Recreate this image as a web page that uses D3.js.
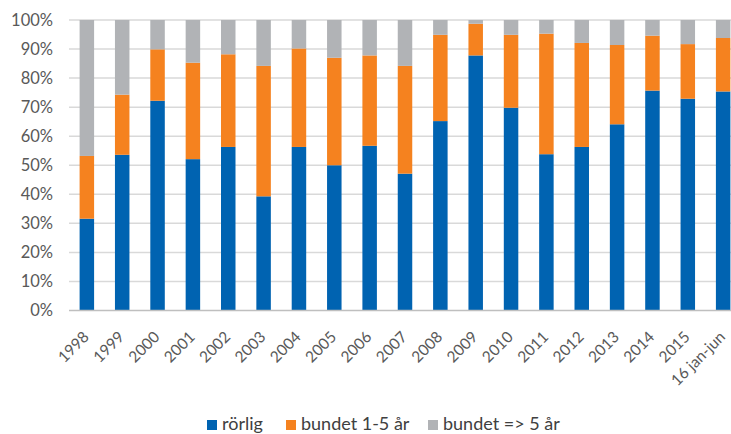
<!DOCTYPE html>
<html>
<head>
<meta charset="utf-8">
<script src="https://cdn.jsdelivr.net/npm/d3@7"></script>
<style>
  html, body { margin: 0; padding: 0; background: #fff; }
</style>
</head>
<body>
<svg id="chart"></svg>
<script>
// data (percent of the year's loans)
const categories = ["1998", "1999", "2000", "2001", "2002", "2003", "2004", "2005", "2006",
  "2007", "2008", "2009", "2010", "2011", "2012", "2013", "2014", "2015", "16 jan-jun"];
const rorlig = [31.6, 53.6, 72.2, 52.1, 56.3, 39.3, 56.3, 50.0, 56.7,
  47.1, 65.2, 87.8, 69.8, 53.8, 56.3, 64.1, 75.7, 72.9, 75.4];
const bundet15 = [21.6, 20.7, 17.7, 33.2, 31.9, 44.9, 33.9, 37.0, 31.1,
  37.1, 29.7, 10.9, 25.1, 41.5, 35.8, 27.3, 18.9, 18.8, 18.4];
const bundet5 = [46.8, 25.7, 10.1, 14.7, 11.8, 15.8, 9.8, 13.0, 12.2,
  15.8, 5.1, 1.3, 5.1, 4.7, 7.9, 8.6, 5.4, 8.3, 6.2];
const seriesNames = ["rörlig", "bundet 1-5 år", "bundet => 5 år"];
const yTicks = [0, 10, 20, 30, 40, 50, 60, 70, 80, 90, 100];

const config = { width: 731, height: 434 };
const colors = ["#0063b1", "#f5821f", "#b1b3b6"];
const font = "Lato, 'Liberation Sans', sans-serif";

const rows = categories.map((c, i) => ({
  cat: c,
  [seriesNames[0]]: rorlig[i],
  [seriesNames[1]]: bundet15[i],
  [seriesNames[2]]: bundet5[i],
}));

const svg = d3
  .select("#chart")
  .attr("width", config.width)
  .attr("height", config.height)
  .style("font-family", font);

// the plot runs past the right edge of the picture (cropped there)
const x = d3.scaleBand().domain(categories).range([69, 741]).paddingInner(0.59).paddingOuter(0.3);
const y = d3.scaleLinear().domain([0, 100]).range([310.5, 20]);

// gridlines
svg
  .append("g")
  .selectAll("line")
  .data(yTicks.slice(1))
  .join("line")
  .attr("x1", 69)
  .attr("x2", config.width)
  .attr("y1", (d) => y(d))
  .attr("y2", (d) => y(d))
  .attr("stroke", "#d9d9d9")
  .attr("stroke-width", 1.5);

// y labels
svg
  .append("g")
  .selectAll("text")
  .data(yTicks)
  .join("text")
  .attr("x", 53)
  .attr("y", (d) => y(d))
  .attr("dy", "0.35em")
  .attr("text-anchor", "end")
  .attr("fill", "#595959")
  .style("font-size", "16.5px")
  .text((d) => d + "%");

// stacked bars
const stack = d3.stack().keys(seriesNames)(rows);
svg
  .append("g")
  .selectAll("g")
  .data(stack)
  .join("g")
  .attr("fill", (d, i) => colors[i])
  .selectAll("rect")
  .data((d) => d)
  .join("rect")
  .attr("x", (d) => x(d.data.cat))
  .attr("width", x.bandwidth())
  .attr("y", (d) => y(d[1]))
  .attr("height", (d) => y(d[0]) - y(d[1]));

// bottom axis line
svg
  .append("line")
  .attr("x1", 69)
  .attr("x2", config.width)
  .attr("y1", 310.5)
  .attr("y2", 310.5)
  .attr("stroke", "#bfbfbf")
  .attr("stroke-width", 1.5);

// x labels, rotated
svg
  .append("g")
  .selectAll("text")
  .data(categories)
  .join("text")
  .attr("transform", (d) => `translate(${x(d) + x.bandwidth() / 2 + 3},${338}) rotate(-45)`)
  .attr("text-anchor", "end")
  .attr("fill", "#595959")
  .style("font-size", "15.5px")
  .text((d) => d);

// legend
const legendX = [207, 286, 428];
const legend = svg
  .append("g")
  .selectAll("g")
  .data(seriesNames)
  .join("g")
  .attr("transform", (d, i) => `translate(${legendX[i]},420)`);
legend
  .append("rect")
  .attr("width", 10)
  .attr("height", 10)
  .attr("fill", (d, i) => colors[i]);
legend
  .append("text")
  .attr("x", 15)
  .attr("y", 10)
  .attr("fill", "#404040")
  .style("font-size", "18px")
  .text((d) => d);
</script>
</body>
</html>
